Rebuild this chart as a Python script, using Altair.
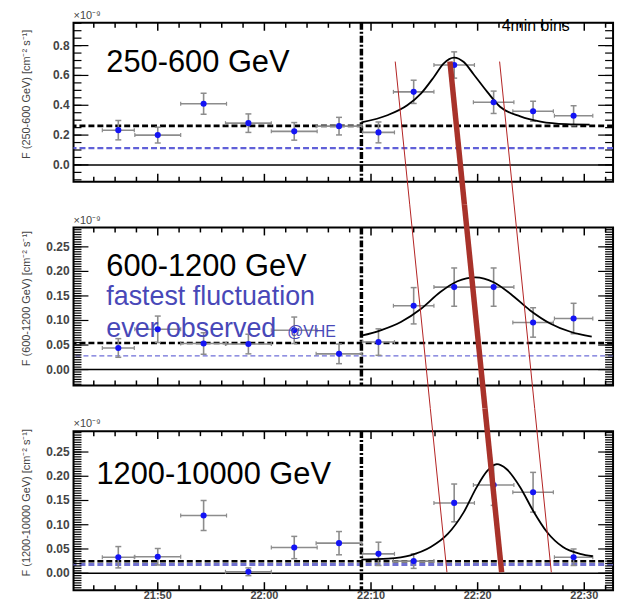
import altair as alt
import pandas as pd

FONT = "Liberation Sans"

# ---------------- data (time = minutes after 21:00) ----------------
times = [46.3, 50.0, 54.3, 58.5, 62.8, 67.0, 70.7, 74.0, 77.8, 81.5, 85.2, 89.0]
time_err = [1.5, 2.15, 2.15, 2.15, 2.15, 2.15, 1.5, 1.9, 1.9, 1.9, 1.9, 1.8]

flux_1 = [0.233, 0.20, 0.41, 0.28, 0.225, 0.26, 0.218, 0.49, 0.67, 0.42, 0.36, 0.33]
err_1 = [0.065, 0.053, 0.07, 0.062, 0.059, 0.059, 0.07, 0.078, 0.088, 0.075, 0.067, 0.067]
flux_2 = [0.044, 0.082, 0.053, 0.052, 0.080, 0.032, 0.056, 0.130, 0.168, 0.168, 0.096, 0.104]
err_2 = [0.019, 0.027, 0.022, 0.02, 0.027, 0.02, 0.027, 0.037, 0.039, 0.039, 0.03, 0.031]
flux_3 = [0.033, 0.034, 0.119, 0.003, 0.053, 0.062, 0.040, 0.025, 0.145, 0.182, 0.167, 0.033]
err_3 = [0.022, 0.017, 0.031, 0.008, 0.023, 0.024, 0.024, 0.015, 0.039, 0.042, 0.041, 0.017]

fit_t_1 = [69.1, 71.6, 73.4, 74.7, 75.9, 76.8, 77.8, 78.7, 79.6, 80.9, 82.1, 84.0, 85.9, 88.3, 90.5]
fit_f_1 = [0.285, 0.335, 0.40, 0.48, 0.59, 0.68, 0.72, 0.69, 0.61, 0.49, 0.39, 0.325, 0.29, 0.273, 0.27]
fit_t_2 = [69.1, 70.9, 72.8, 74.7, 76.5, 78.1, 79.8, 81.5, 83.1, 84.9, 86.8, 88.7, 90.7]
fit_f_2 = [0.069, 0.080, 0.097, 0.124, 0.158, 0.180, 0.188, 0.178, 0.154, 0.121, 0.094, 0.077, 0.067]
fit_t_3 = [69.1, 71.6, 73.7, 75.6, 77.2, 78.7, 79.9, 80.9, 81.8, 82.7, 84.0, 85.2, 86.5, 88.0, 89.6, 90.8]
fit_f_3 = [0.028, 0.030, 0.037, 0.054, 0.081, 0.126, 0.177, 0.211, 0.225, 0.215, 0.177, 0.129, 0.085, 0.054, 0.040, 0.035]

black_level = [0.262, 0.054, 0.0246]
blue_level = [0.113, 0.028, 0.018]
flare_start = 69.1

# red annotation lines: start/end time per panel, and the flux range they cross
red_thick_t = [(77.40, 78.76), (78.76, 80.69), (80.69, 82.25)]
red_left_t = [(72.27, 73.63), (73.63, 75.56), (75.56, 77.12)]
red_right_t = [(82.06, 83.42), (83.42, 85.35), (85.35, 86.91)]
red_f = [(0.693, -0.267), (0.336, -0.079), (0.340, 0.002)]

x_tick_values = [50, 60, 70, 80, 90]
x_tick_labels = ["21:50", "22:00", "22:10", "22:20", "22:30"]
y_ticks_1 = [0.0, 0.2, 0.4, 0.6, 0.8]
y_labels_1 = ["0.0", "0.2", "0.4", "0.6", "0.8"]
y_ticks_2 = [0.0, 0.05, 0.10, 0.15, 0.20, 0.25]
y_labels_2 = ["0.00", "0.05", "0.10", "0.15", "0.20", "0.25"]

panel_labels = ["250-600 GeV", "600-1200 GeV", "1200-10000 GeV"]
y_titles = ["F (250-600 GeV)  [cm⁻² s⁻¹]", "F (600-1200 GeV)  [cm⁻² s⁻¹]",
            "F (1200-10000 GeV)  [cm⁻² s⁻¹]"]
note_lines = ["fastest fluctuation", "ever observed", "@VHE"]
bins_label = "4min bins"
exp_label = "×10⁻⁹"

X_DOMAIN = [42.1, 92.7]
W = 543
BLUE = "#1414F5"
NOTE_BLUE = "#4848B8"
AXIS_GREY = "#444444"


def rng(a, b, step):
    n = int(round((b - a) / step))
    return [round(a + i * step, 4) for i in range(n + 1)]


def text_layer(txt, x, y, size, color="black", align="left", baseline="alphabetic", **kw):
    return alt.Chart(pd.DataFrame({"label": [txt]})).mark_text(
        font=FONT, fontSize=size, color=color, align=align, baseline=baseline, **kw
    ).encode(x=alt.value(x), y=alt.value(y), text="label:N")


def make_panel(i, flux, ferr, fit_t, fit_f, ydom, major, major_lbl, minor, H, blue_style, show_x):
    xs = alt.Scale(domain=X_DOMAIN, nice=False, zero=False)
    ys = alt.Scale(domain=ydom, nice=False, zero=False)
    df = pd.DataFrame({
        "t": times, "f": flux,
        "lo": [f - e for f, e in zip(flux, ferr)],
        "hi": [f + e for f, e in zip(flux, ferr)],
        "tl": [t - e for t, e in zip(times, time_err)],
        "th": [t + e for t, e in zip(times, time_err)],
    })
    X = lambda f: alt.X(f, scale=xs, axis=None)
    Y = lambda f: alt.Y(f, scale=ys, axis=None)

    layers = []
    # zero line
    layers.append(alt.Chart(pd.DataFrame({"v": [0.0]})).mark_rule(color="black", strokeWidth=1.5)
                  .encode(y=Y("v:Q")))
    # blue and black baselines
    layers.append(alt.Chart(pd.DataFrame({"v": [blue_level[i]]})).mark_rule(**blue_style)
                  .encode(y=Y("v:Q")))
    layers.append(alt.Chart(pd.DataFrame({"v": [black_level[i]]}))
                  .mark_rule(color="black", strokeWidth=2.6, strokeDash=[6, 3])
                  .encode(y=Y("v:Q")))
    # flare start dash-dot
    layers.append(alt.Chart(pd.DataFrame({"v": [flare_start]}))
                  .mark_rule(color="black", strokeWidth=3.5, strokeDash=[7, 2, 2, 2])
                  .encode(x=X("v:Q")))
    # inward ticks: y (left and right)
    ymaj = pd.DataFrame({"v": major, "label": major_lbl})
    ymin = pd.DataFrame({"v": [v for v in minor if ydom[0] < v < ydom[1]]})
    for d, L in ((ymaj, 15), (ymin, 8)):
        layers.append(alt.Chart(d).mark_rule(color="black", strokeWidth=1.2)
                      .encode(y=Y("v:Q"), x=alt.value(0), x2=alt.value(L)))
        layers.append(alt.Chart(d).mark_rule(color="black", strokeWidth=1.2)
                      .encode(y=Y("v:Q"), x=alt.value(W), x2=alt.value(W - L)))
    # y tick labels and title (as text)
    layers.append(alt.Chart(ymaj).mark_text(font=FONT, fontSize=12, fontWeight="bold",
                                            color=AXIS_GREY, align="right", baseline="middle")
                  .encode(y=Y("v:Q"), x=alt.value(-4), text="label:N"))
    layers.append(text_layer(y_titles[i], -47, H / 2 - 8, 11, color=AXIS_GREY,
                             align="center", baseline="middle", angle=270))
    # inward ticks: x (top and bottom)
    xmaj = pd.DataFrame({"v": x_tick_values, "label": x_tick_labels})
    xmin = pd.DataFrame({"v": [v for v in rng(44, 92, 2) if v % 10 != 0]})
    for d, L in ((xmaj, 8), (xmin, 5)):
        layers.append(alt.Chart(d).mark_rule(color="black", strokeWidth=1.5)
                      .encode(x=X("v:Q"), y=alt.value(0), y2=alt.value(L)))
        layers.append(alt.Chart(d).mark_rule(color="black", strokeWidth=1.5)
                      .encode(x=X("v:Q"), y=alt.value(H), y2=alt.value(H - L)))
    if show_x:
        layers.append(alt.Chart(xmaj).mark_text(font=FONT, fontSize=11, fontWeight="bold",
                                                color=AXIS_GREY, align="center", baseline="top")
                      .encode(x=X("v:Q"), y=alt.value(H), text="label:N"))
    # error bars
    eb = dict(color="#8C8C8C", strokeWidth=1.6)
    layers.append(alt.Chart(df).mark_rule(**eb).encode(x=X("t:Q"), y=Y("lo:Q"), y2="hi:Q"))
    layers.append(alt.Chart(df).mark_rule(**eb).encode(y=Y("f:Q"), x=X("tl:Q"), x2="th:Q"))
    for c in ("lo", "hi"):
        layers.append(alt.Chart(df).mark_tick(orient="horizontal", size=6, thickness=1.5,
                                              color="#8C8C8C", opacity=1)
                      .encode(x=X("t:Q"), y=Y(c + ":Q")))
    for c in ("tl", "th"):
        layers.append(alt.Chart(df).mark_tick(orient="vertical", size=4, thickness=1.2,
                                              color="#8C8C8C", opacity=1)
                      .encode(x=X(c + ":Q"), y=Y("f:Q")))
    # fit curve
    layers.append(alt.Chart(pd.DataFrame({"t": fit_t, "f": fit_f}))
                  .mark_line(color="black", strokeWidth=1.8, interpolate="monotone")
                  .encode(x=X("t:Q"), y=Y("f:Q")))
    # points
    layers.append(alt.Chart(df).mark_circle(size=38, color=BLUE, opacity=1)
                  .encode(x=X("t:Q"), y=Y("f:Q")))
    # red lines
    f1, f2 = red_f[i]
    for (t1, t2), w, col in ((red_left_t[i], 1.0, "#B22222"), (red_right_t[i], 1.0, "#B22222"),
                             (red_thick_t[i], 5.5, "#A8322A")):
        layers.append(alt.Chart(pd.DataFrame({"t1": [t1], "t2": [t2], "f1": [f1], "f2": [f2]}))
                      .mark_rule(color=col, strokeWidth=w, clip=False)
                      .encode(x=X("t1:Q"), x2="t2:Q", y=Y("f1:Q"), y2="f2:Q"))
    # exponent label
    layers.append(text_layer(exp_label, 0, -2, 11, color=AXIS_GREY, baseline="bottom"))
    return layers


p1 = make_panel(0, flux_1, err_1, fit_t_1, fit_f_1, [-0.113, 0.953], y_ticks_1, y_labels_1,
                rng(-0.1, 0.95, 0.05), 160,
                dict(color="#6060D8", strokeWidth=2.2, strokeDash=[6, 3]), False)
p1 += [text_layer(panel_labels[0], 33, 50, 31), text_layer(bins_label, 431, 8, 16)]

p2 = make_panel(1, flux_2, err_2, fit_t_2, fit_f_2, [-0.0324, 0.2895], y_ticks_2, y_labels_2,
                rng(-0.03, 0.29, 0.005), 159,
                dict(color="#6E6ED8", strokeWidth=1.2, strokeDash=[5, 3]), False)
p2 += [text_layer(panel_labels[1], 33, 49, 31),
       text_layer(note_lines[0], 33, 78, 27, color=NOTE_BLUE),
       text_layer(note_lines[1], 33, 110, 27, color=NOTE_BLUE),
       text_layer(note_lines[2], 215, 110, 16, color=NOTE_BLUE)]

p3 = make_panel(2, flux_3, err_3, fit_t_3, fit_f_3, [-0.0349, 0.293], y_ticks_2, y_labels_2,
                rng(-0.03, 0.29, 0.005), 160,
                dict(color="#7070D0", strokeWidth=3, strokeDash=[6, 3]), True)
p3 += [text_layer(panel_labels[2], 23, 53, 31)]

c1 = alt.layer(*p1).properties(width=W, height=160)
c2 = alt.layer(*p2).properties(width=W, height=159)
c3 = alt.layer(*p3).properties(width=W, height=160)

chart = alt.vconcat(c1, c2, c3, spacing=46, bounds="flush").properties(
    padding={"left": 20, "top": 7, "right": 6, "bottom": 0},
    background="white",
).configure_view(stroke="black", strokeWidth=2)

chart.save("out.html", embed_options={"renderer": "svg", "actions": False})
